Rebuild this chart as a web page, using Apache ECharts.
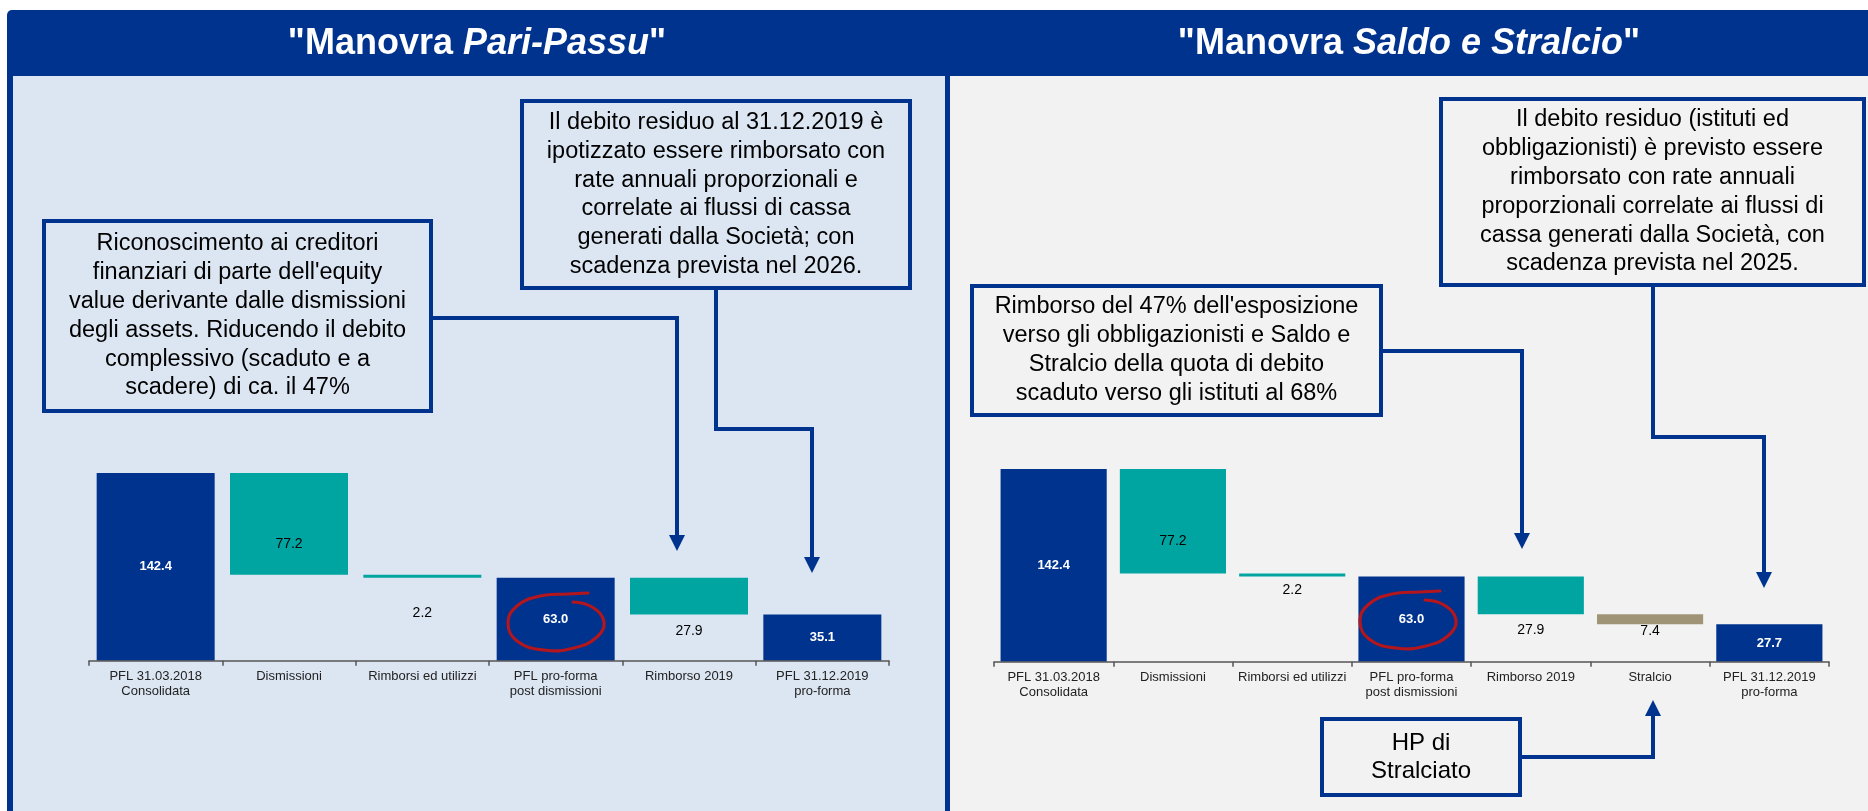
<!DOCTYPE html>
<html>
<head>
<meta charset="utf-8">
<title>Manovra Pari-Passu / Saldo e Stralcio</title>
<script src="https://cdn.jsdelivr.net/npm/echarts@6/dist/echarts.min.js"></script>
<style>
  html, body { margin: 0; padding: 0; background: #fff; }
  #main { width: 1868px; height: 811px; }
</style>
</head>
<body>
<div id="main"></div>
<script>
// dati - manovra pari passu
const ppCategories = ['PFL 31.03.2018\nConsolidata', 'Dismissioni', 'Rimborsi ed utilizzi', 'PFL pro-forma\npost dismissioni', 'Rimborso 2019', 'PFL 31.12.2019\npro-forma'];
const ppValues = [142.4, 77.2, 2.2, 63.0, 27.9, 35.1];
const ppKinds = ['total', 'down', 'down', 'total', 'down', 'total'];

// dati - manovra saldo e stralcio
const ssCategories = ['PFL 31.03.2018\nConsolidata', 'Dismissioni', 'Rimborsi ed utilizzi', 'PFL pro-forma\npost dismissioni', 'Rimborso 2019', 'Stralcio', 'PFL 31.12.2019\npro-forma'];
const ssValues = [142.4, 77.2, 2.2, 63.0, 27.9, 7.4, 27.7];
const ssKinds = ['total', 'down', 'down', 'total', 'down', 'cut', 'total'];

const FONT = '"Liberation Sans", Arial, sans-serif';
const BLUE = '#00338e';
const COLORS = { total: '#00338e', down: '#00a5a2', cut: '#a09476' };

// spostamento verticale delle etichette (come nella slide originale)
const ppLabelShift = [0, 20, 37, 0, 35, 0];
const ssLabelShift = [0, 20, 15, 0, 35, 12, 0];

// base invisibile della cascata
const waterfallBase = (values, kinds) => {
  let level = 0;
  return values.map((v, i) => {
    if (kinds[i] === 'total') { level = v; return 0; }
    level = level - v;
    return level;
  });
};

const barData = (values, kinds, shifts) => values.map((v, i) => ({
  value: v,
  itemStyle: { color: COLORS[kinds[i]] },
  label: kinds[i] === 'total'
    ? { color: '#fff', fontWeight: 'bold', fontSize: 13 }
    : { color: '#000', fontSize: 14, offset: [0, shifts[i]] }
}));

const axisX = (idx, cats) => ({
  gridIndex: idx,
  type: 'category',
  z: 10,
  data: cats,
  axisLine: { lineStyle: { color: '#555', width: 1.5 } },
  axisTick: { show: true, length: 5, lineStyle: { color: '#555', width: 1.5 } },
  axisLabel: { interval: 0, color: '#222', fontSize: 13, lineHeight: 15, margin: 8, fontFamily: FONT }
});

const seriesPair = (idx, values, kinds, shifts, gap) => [
  {
    type: 'bar', xAxisIndex: idx, yAxisIndex: idx, stack: 's' + idx, z: 5,
    data: waterfallBase(values, kinds),
    itemStyle: { color: 'transparent' }, silent: true,
    barCategoryGap: gap
  },
  {
    type: 'bar', xAxisIndex: idx, yAxisIndex: idx, stack: 's' + idx, z: 5,
    data: barData(values, kinds, shifts),
    barCategoryGap: gap,
    label: { show: true, position: 'inside', fontFamily: FONT, formatter: p => p.value.toFixed(1) }
  }
];

// riquadri di testo
const box = (x, y, w, h, lines, fontSize, lh) => [
  { type: 'rect', z: 50, shape: { x: x + 2, y: y + 2, width: w - 4, height: h - 4 },
    style: { fill: 'transparent', stroke: BLUE, lineWidth: 4 } },
  { type: 'text', z: 51, x: x + w / 2, y: y + h / 2,
    style: { text: lines.join('\n'), fill: '#000', fontSize: fontSize, fontFamily: FONT,
      align: 'center', verticalAlign: 'middle', lineHeight: lh } }
];
const connector = (pts) => ({ type: 'polyline', z: 50, shape: { points: pts },
  style: { stroke: BLUE, lineWidth: 4, fill: null, lineJoin: 'miter' } });
const arrowDown = (x, tip) => ({ type: 'polygon', z: 50,
  shape: { points: [[x - 8, tip - 16], [x + 8, tip - 16], [x, tip]] }, style: { fill: BLUE } });
const arrowUp = (x, tip) => ({ type: 'polygon', z: 50,
  shape: { points: [[x - 8, tip + 16], [x + 8, tip + 16], [x, tip]] }, style: { fill: BLUE } });
const redLoop = (cx, cy) => ({
  type: 'polyline', z: 40,
  shape: {
    smooth: 0.45,
    points: [[17, -20], [36, -15], [48, 0], [41, 15], [18, 26], [-12, 28], [-39, 19], [-48, 1], [-39, -16], [-16, -26], [12, -28], [32, -29]]
      .map(p => [cx + p[0], cy + p[1]])
  },
  style: { stroke: '#b3161c', lineWidth: 3.2, fill: null, lineCap: 'round' }
});

const header = (x, text) => ({
  type: 'text', z: 5, x: x, y: 44,
  style: { text: text, fill: '#fff', fontSize: 36, fontWeight: 'bold', fontFamily: FONT,
    align: 'center', verticalAlign: 'middle',
    rich: { i: { fontStyle: 'italic', fontWeight: 'bold', fontSize: 36, fontFamily: FONT, fill: '#fff' } } }
});

const graphics = [
  { type: 'rect', z: 0, shape: { x: 7, y: 10, width: 1861, height: 801, r: [5, 0, 0, 0] }, style: { fill: BLUE } },
  { type: 'rect', z: 1, shape: { x: 13, y: 76, width: 932, height: 735 }, style: { fill: '#dce6f2' } },
  { type: 'rect', z: 1, shape: { x: 950, y: 76, width: 918, height: 735 }, style: { fill: '#f2f2f2' } },
  header(477, '"Manovra {i|Pari-Passu}"'),
  header(1409, '"Manovra {i|Saldo e Stralcio}"'),

  ...box(42, 219, 391, 194, [
    'Riconoscimento ai creditori',
    "finanziari di parte dell'equity",
    'value derivante dalle dismissioni',
    'degli assets. Riducendo il debito',
    'complessivo (scaduto e a',
    'scadere) di ca. il 47%'
  ], 23.5, 28.8),
  ...box(520, 99, 392, 191, [
    'Il debito residuo al 31.12.2019 è',
    'ipotizzato essere rimborsato con',
    'rate annuali proporzionali e',
    'correlate ai flussi di cassa',
    'generati dalla Società; con',
    'scadenza prevista nel 2026.'
  ], 23.5, 28.7),
  connector([[433, 318], [677, 318], [677, 536]]),
  arrowDown(677, 551),
  connector([[716, 290], [716, 429], [812, 429], [812, 558]]),
  arrowDown(812, 573),

  ...box(970, 284, 413, 133, [
    "Rimborso del 47% dell'esposizione",
    'verso gli obbligazionisti e Saldo e',
    'Stralcio della quota di debito',
    'scaduto verso gli istituti al 68%'
  ], 23.5, 29),
  ...box(1439, 97, 427, 190, [
    'Il debito residuo (istituti ed',
    'obbligazionisti) è previsto essere',
    'rimborsato con rate annuali',
    'proporzionali correlate ai flussi di',
    'cassa generati dalla Società, con',
    'scadenza prevista nel 2025.'
  ], 23.5, 28.8),
  ...box(1320, 717, 202, 80, ['HP di', 'Stralciato'], 24, 28),
  connector([[1383, 351], [1522, 351], [1522, 534]]),
  arrowDown(1522, 549),
  connector([[1653, 287], [1653, 437], [1764, 437], [1764, 573]]),
  arrowDown(1764, 588),
  connector([[1522, 757], [1653, 757], [1653, 714]]),
  arrowUp(1653, 700),

  redLoop(556, 622),
  redLoop(1408, 620)
];

const option = {
  animation: false,
  textStyle: { fontFamily: FONT },
  grid: [
    { left: 89, top: 463, width: 800, height: 197.7 },
    { left: 994, top: 458.7, width: 835, height: 203 }
  ],
  xAxis: [axisX(0, ppCategories), axisX(1, ssCategories)],
  yAxis: [
    { gridIndex: 0, type: 'value', min: 0, max: 150, show: false },
    { gridIndex: 1, type: 'value', min: 0, max: 150, show: false }
  ],
  series: [
    ...seriesPair(0, ppValues, ppKinds, ppLabelShift, '11.5%'),
    ...seriesPair(1, ssValues, ssKinds, ssLabelShift, '11%')
  ],
  graphic: graphics
};

const myChart = echarts.init(document.getElementById('main'));
myChart.setOption(option);
</script>
</body>
</html>
